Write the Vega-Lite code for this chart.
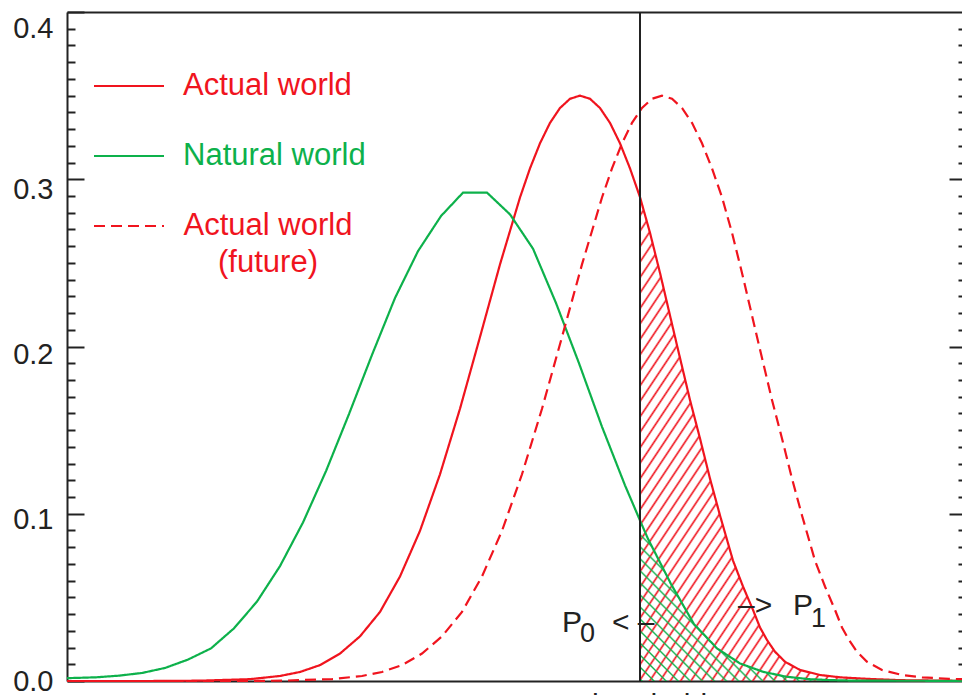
{
  "$schema": "https://vega.github.io/schema/vega-lite/v6.json",
  "width": 895,
  "height": 669,
  "autosize": "none",
  "padding": {"left": 67, "top": 12, "right": 0, "bottom": 14},
  "background": "white",
  "config": {"view": {"stroke": null}, "font": "Liberation Sans", "axis": {"grid": false, "title": null}},
  "datasets": {
    "curves": [
      {"series": "Actual world", "x": 0, "y": 0},
      {"series": "Actual world", "x": 8.3, "y": 0},
      {"series": "Actual world", "x": 13.3, "y": 0.0002},
      {"series": "Actual world", "x": 18.3, "y": 0.0011},
      {"series": "Actual world", "x": 21.3, "y": 0.003},
      {"series": "Actual world", "x": 23.3, "y": 0.0054},
      {"series": "Actual world", "x": 25.3, "y": 0.0095},
      {"series": "Actual world", "x": 27.3, "y": 0.0164},
      {"series": "Actual world", "x": 29.3, "y": 0.0267},
      {"series": "Actual world", "x": 31.3, "y": 0.0413},
      {"series": "Actual world", "x": 33.3, "y": 0.0625},
      {"series": "Actual world", "x": 35.3, "y": 0.0898},
      {"series": "Actual world", "x": 37.3, "y": 0.1236},
      {"series": "Actual world", "x": 39.3, "y": 0.1628},
      {"series": "Actual world", "x": 41.3, "y": 0.2057},
      {"series": "Actual world", "x": 43.3, "y": 0.2491},
      {"series": "Actual world", "x": 45.3, "y": 0.2891},
      {"series": "Actual world", "x": 46.3, "y": 0.3065},
      {"series": "Actual world", "x": 47.3, "y": 0.3215},
      {"series": "Actual world", "x": 48.3, "y": 0.3337},
      {"series": "Actual world", "x": 49.3, "y": 0.3426},
      {"series": "Actual world", "x": 50.3, "y": 0.3481},
      {"series": "Actual world", "x": 51.3, "y": 0.35},
      {"series": "Actual world", "x": 52.3, "y": 0.3481},
      {"series": "Actual world", "x": 53.3, "y": 0.3426},
      {"series": "Actual world", "x": 54.3, "y": 0.3337},
      {"series": "Actual world", "x": 55.3, "y": 0.3215},
      {"series": "Actual world", "x": 56.3, "y": 0.3065},
      {"series": "Actual world", "x": 57.3, "y": 0.2893},
      {"series": "Actual world", "x": 58.3, "y": 0.268},
      {"series": "Actual world", "x": 59.3, "y": 0.244},
      {"series": "Actual world", "x": 61.0, "y": 0.2007},
      {"series": "Actual world", "x": 62.3, "y": 0.168},
      {"series": "Actual world", "x": 63.3, "y": 0.145},
      {"series": "Actual world", "x": 64.3, "y": 0.121},
      {"series": "Actual world", "x": 65.3, "y": 0.099},
      {"series": "Actual world", "x": 66.6, "y": 0.072},
      {"series": "Actual world", "x": 67.6, "y": 0.0565},
      {"series": "Actual world", "x": 68.6, "y": 0.0425},
      {"series": "Actual world", "x": 69.3, "y": 0.032},
      {"series": "Actual world", "x": 70.0, "y": 0.0245},
      {"series": "Actual world", "x": 70.8, "y": 0.0175},
      {"series": "Actual world", "x": 71.8, "y": 0.0115},
      {"series": "Actual world", "x": 73.3, "y": 0.0066},
      {"series": "Actual world", "x": 75.3, "y": 0.0036},
      {"series": "Actual world", "x": 77.3, "y": 0.0022},
      {"series": "Actual world", "x": 80.0, "y": 0.0013},
      {"series": "Actual world", "x": 83.3, "y": 0.0005},
      {"series": "Actual world", "x": 89.5, "y": 0.0001},
      {"series": "Natural world", "x": 0, "y": 0.0017},
      {"series": "Natural world", "x": 2.9, "y": 0.0022},
      {"series": "Natural world", "x": 5.2, "y": 0.0032},
      {"series": "Natural world", "x": 7.5, "y": 0.0048},
      {"series": "Natural world", "x": 9.8, "y": 0.0078},
      {"series": "Natural world", "x": 12.1, "y": 0.0128},
      {"series": "Natural world", "x": 14.4, "y": 0.0195},
      {"series": "Natural world", "x": 16.7, "y": 0.0315},
      {"series": "Natural world", "x": 19.0, "y": 0.0475},
      {"series": "Natural world", "x": 21.3, "y": 0.0687},
      {"series": "Natural world", "x": 23.6, "y": 0.0948},
      {"series": "Natural world", "x": 25.9, "y": 0.1255},
      {"series": "Natural world", "x": 28.2, "y": 0.1596},
      {"series": "Natural world", "x": 30.5, "y": 0.195},
      {"series": "Natural world", "x": 32.8, "y": 0.229},
      {"series": "Natural world", "x": 35.1, "y": 0.257},
      {"series": "Natural world", "x": 37.4, "y": 0.278},
      {"series": "Natural world", "x": 39.6, "y": 0.292},
      {"series": "Natural world", "x": 42.0, "y": 0.292},
      {"series": "Natural world", "x": 44.3, "y": 0.279},
      {"series": "Natural world", "x": 46.6, "y": 0.2585},
      {"series": "Natural world", "x": 48.9, "y": 0.226},
      {"series": "Natural world", "x": 51.2, "y": 0.19},
      {"series": "Natural world", "x": 53.5, "y": 0.152},
      {"series": "Natural world", "x": 55.8, "y": 0.117},
      {"series": "Natural world", "x": 57.3, "y": 0.096},
      {"series": "Natural world", "x": 58.1, "y": 0.085},
      {"series": "Natural world", "x": 60.4, "y": 0.058},
      {"series": "Natural world", "x": 62.7, "y": 0.034},
      {"series": "Natural world", "x": 65.0, "y": 0.0195},
      {"series": "Natural world", "x": 67.3, "y": 0.0105},
      {"series": "Natural world", "x": 69.6, "y": 0.0055},
      {"series": "Natural world", "x": 71.9, "y": 0.0026},
      {"series": "Natural world", "x": 74.2, "y": 0.0011},
      {"series": "Natural world", "x": 76.5, "y": 0.0005},
      {"series": "Natural world", "x": 78.8, "y": 0.0002},
      {"series": "Natural world", "x": 89.5, "y": 0.0001},
      {"series": "Actual world (future)", "x": 0, "y": 0},
      {"series": "Actual world (future)", "x": 16.5, "y": 0},
      {"series": "Actual world (future)", "x": 21.5, "y": 0.0002},
      {"series": "Actual world (future)", "x": 26.5, "y": 0.0011},
      {"series": "Actual world (future)", "x": 29.5, "y": 0.003},
      {"series": "Actual world (future)", "x": 31.5, "y": 0.0054},
      {"series": "Actual world (future)", "x": 33.5, "y": 0.0095},
      {"series": "Actual world (future)", "x": 35.5, "y": 0.0164},
      {"series": "Actual world (future)", "x": 37.5, "y": 0.0267},
      {"series": "Actual world (future)", "x": 39.5, "y": 0.0413},
      {"series": "Actual world (future)", "x": 41.5, "y": 0.0625},
      {"series": "Actual world (future)", "x": 43.5, "y": 0.0898},
      {"series": "Actual world (future)", "x": 45.5, "y": 0.1236},
      {"series": "Actual world (future)", "x": 47.5, "y": 0.1628},
      {"series": "Actual world (future)", "x": 49.5, "y": 0.2057},
      {"series": "Actual world (future)", "x": 51.5, "y": 0.2491},
      {"series": "Actual world (future)", "x": 53.5, "y": 0.2891},
      {"series": "Actual world (future)", "x": 54.5, "y": 0.3065},
      {"series": "Actual world (future)", "x": 55.5, "y": 0.3215},
      {"series": "Actual world (future)", "x": 56.5, "y": 0.3337},
      {"series": "Actual world (future)", "x": 57.5, "y": 0.3426},
      {"series": "Actual world (future)", "x": 58.5, "y": 0.3481},
      {"series": "Actual world (future)", "x": 59.5, "y": 0.35},
      {"series": "Actual world (future)", "x": 60.5, "y": 0.3481},
      {"series": "Actual world (future)", "x": 61.5, "y": 0.3426},
      {"series": "Actual world (future)", "x": 62.5, "y": 0.3337},
      {"series": "Actual world (future)", "x": 63.5, "y": 0.3215},
      {"series": "Actual world (future)", "x": 64.5, "y": 0.3065},
      {"series": "Actual world (future)", "x": 65.5, "y": 0.2893},
      {"series": "Actual world (future)", "x": 66.5, "y": 0.268},
      {"series": "Actual world (future)", "x": 67.5, "y": 0.244},
      {"series": "Actual world (future)", "x": 69.2, "y": 0.2007},
      {"series": "Actual world (future)", "x": 70.5, "y": 0.168},
      {"series": "Actual world (future)", "x": 71.5, "y": 0.145},
      {"series": "Actual world (future)", "x": 72.5, "y": 0.121},
      {"series": "Actual world (future)", "x": 73.5, "y": 0.099},
      {"series": "Actual world (future)", "x": 74.8, "y": 0.072},
      {"series": "Actual world (future)", "x": 75.8, "y": 0.0565},
      {"series": "Actual world (future)", "x": 76.8, "y": 0.0425},
      {"series": "Actual world (future)", "x": 77.5, "y": 0.032},
      {"series": "Actual world (future)", "x": 78.2, "y": 0.0245},
      {"series": "Actual world (future)", "x": 79.0, "y": 0.0175},
      {"series": "Actual world (future)", "x": 80.0, "y": 0.0115},
      {"series": "Actual world (future)", "x": 81.5, "y": 0.0066},
      {"series": "Actual world (future)", "x": 83.5, "y": 0.0036},
      {"series": "Actual world (future)", "x": 85.5, "y": 0.0022},
      {"series": "Actual world (future)", "x": 88.2, "y": 0.0013},
      {"series": "Actual world (future)", "x": 89.5, "y": 0.0011}
    ]
  },
  "resolve": {"axis": {"x": "independent", "y": "independent"}},
  "layer": [
    {
      "data": {"name": "curves"},
      "transform": [{"filter": "datum.series === 'Actual world' && datum.x >= 57.3"}],
      "mark": {
        "type": "area",
        "opacity": 1,
        "fill": {
          "gradient": "linear", "x1": 0, "y1": 0, "x2": 1, "y2": 1,
          "stops": [
            {"offset":0,"color":"rgba(240,20,30,0)"},{"offset":0.003,"color":"#f0141e"},{"offset":0.006,"color":"rgba(240,20,30,0)"},
            {"offset":0.016,"color":"rgba(240,20,30,0)"},{"offset":0.019,"color":"#f0141e"},{"offset":0.022,"color":"rgba(240,20,30,0)"},
            {"offset":0.032,"color":"rgba(240,20,30,0)"},{"offset":0.035,"color":"#f0141e"},{"offset":0.038,"color":"rgba(240,20,30,0)"},
            {"offset":0.048,"color":"rgba(240,20,30,0)"},{"offset":0.051,"color":"#f0141e"},{"offset":0.054,"color":"rgba(240,20,30,0)"},
            {"offset":0.064,"color":"rgba(240,20,30,0)"},{"offset":0.067,"color":"#f0141e"},{"offset":0.07,"color":"rgba(240,20,30,0)"},
            {"offset":0.08,"color":"rgba(240,20,30,0)"},{"offset":0.083,"color":"#f0141e"},{"offset":0.086,"color":"rgba(240,20,30,0)"},
            {"offset":0.096,"color":"rgba(240,20,30,0)"},{"offset":0.099,"color":"#f0141e"},{"offset":0.102,"color":"rgba(240,20,30,0)"},
            {"offset":0.112,"color":"rgba(240,20,30,0)"},{"offset":0.115,"color":"#f0141e"},{"offset":0.118,"color":"rgba(240,20,30,0)"},
            {"offset":0.128,"color":"rgba(240,20,30,0)"},{"offset":0.131,"color":"#f0141e"},{"offset":0.134,"color":"rgba(240,20,30,0)"},
            {"offset":0.144,"color":"rgba(240,20,30,0)"},{"offset":0.147,"color":"#f0141e"},{"offset":0.15,"color":"rgba(240,20,30,0)"},
            {"offset":0.16,"color":"rgba(240,20,30,0)"},{"offset":0.163,"color":"#f0141e"},{"offset":0.166,"color":"rgba(240,20,30,0)"},
            {"offset":0.176,"color":"rgba(240,20,30,0)"},{"offset":0.179,"color":"#f0141e"},{"offset":0.182,"color":"rgba(240,20,30,0)"},
            {"offset":0.192,"color":"rgba(240,20,30,0)"},{"offset":0.195,"color":"#f0141e"},{"offset":0.198,"color":"rgba(240,20,30,0)"},
            {"offset":0.208,"color":"rgba(240,20,30,0)"},{"offset":0.211,"color":"#f0141e"},{"offset":0.214,"color":"rgba(240,20,30,0)"},
            {"offset":0.224,"color":"rgba(240,20,30,0)"},{"offset":0.227,"color":"#f0141e"},{"offset":0.23,"color":"rgba(240,20,30,0)"},
            {"offset":0.24,"color":"rgba(240,20,30,0)"},{"offset":0.243,"color":"#f0141e"},{"offset":0.246,"color":"rgba(240,20,30,0)"},
            {"offset":0.256,"color":"rgba(240,20,30,0)"},{"offset":0.259,"color":"#f0141e"},{"offset":0.262,"color":"rgba(240,20,30,0)"},
            {"offset":0.272,"color":"rgba(240,20,30,0)"},{"offset":0.275,"color":"#f0141e"},{"offset":0.278,"color":"rgba(240,20,30,0)"},
            {"offset":0.288,"color":"rgba(240,20,30,0)"},{"offset":0.291,"color":"#f0141e"},{"offset":0.294,"color":"rgba(240,20,30,0)"},
            {"offset":0.304,"color":"rgba(240,20,30,0)"},{"offset":0.307,"color":"#f0141e"},{"offset":0.31,"color":"rgba(240,20,30,0)"},
            {"offset":0.32,"color":"rgba(240,20,30,0)"},{"offset":0.323,"color":"#f0141e"},{"offset":0.326,"color":"rgba(240,20,30,0)"},
            {"offset":0.336,"color":"rgba(240,20,30,0)"},{"offset":0.339,"color":"#f0141e"},{"offset":0.342,"color":"rgba(240,20,30,0)"},
            {"offset":0.352,"color":"rgba(240,20,30,0)"},{"offset":0.355,"color":"#f0141e"},{"offset":0.358,"color":"rgba(240,20,30,0)"},
            {"offset":0.368,"color":"rgba(240,20,30,0)"},{"offset":0.371,"color":"#f0141e"},{"offset":0.374,"color":"rgba(240,20,30,0)"},
            {"offset":0.384,"color":"rgba(240,20,30,0)"},{"offset":0.387,"color":"#f0141e"},{"offset":0.39,"color":"rgba(240,20,30,0)"},
            {"offset":0.4,"color":"rgba(240,20,30,0)"},{"offset":0.403,"color":"#f0141e"},{"offset":0.406,"color":"rgba(240,20,30,0)"},
            {"offset":0.416,"color":"rgba(240,20,30,0)"},{"offset":0.419,"color":"#f0141e"},{"offset":0.422,"color":"rgba(240,20,30,0)"},
            {"offset":0.432,"color":"rgba(240,20,30,0)"},{"offset":0.435,"color":"#f0141e"},{"offset":0.438,"color":"rgba(240,20,30,0)"},
            {"offset":0.448,"color":"rgba(240,20,30,0)"},{"offset":0.451,"color":"#f0141e"},{"offset":0.454,"color":"rgba(240,20,30,0)"},
            {"offset":0.464,"color":"rgba(240,20,30,0)"},{"offset":0.467,"color":"#f0141e"},{"offset":0.47,"color":"rgba(240,20,30,0)"},
            {"offset":0.48,"color":"rgba(240,20,30,0)"},{"offset":0.483,"color":"#f0141e"},{"offset":0.486,"color":"rgba(240,20,30,0)"},
            {"offset":0.496,"color":"rgba(240,20,30,0)"},{"offset":0.499,"color":"#f0141e"},{"offset":0.502,"color":"rgba(240,20,30,0)"},
            {"offset":0.512,"color":"rgba(240,20,30,0)"},{"offset":0.515,"color":"#f0141e"},{"offset":0.518,"color":"rgba(240,20,30,0)"},
            {"offset":0.528,"color":"rgba(240,20,30,0)"},{"offset":0.531,"color":"#f0141e"},{"offset":0.534,"color":"rgba(240,20,30,0)"},
            {"offset":0.544,"color":"rgba(240,20,30,0)"},{"offset":0.547,"color":"#f0141e"},{"offset":0.55,"color":"rgba(240,20,30,0)"},
            {"offset":0.56,"color":"rgba(240,20,30,0)"},{"offset":0.563,"color":"#f0141e"},{"offset":0.566,"color":"rgba(240,20,30,0)"},
            {"offset":0.576,"color":"rgba(240,20,30,0)"},{"offset":0.579,"color":"#f0141e"},{"offset":0.582,"color":"rgba(240,20,30,0)"},
            {"offset":0.592,"color":"rgba(240,20,30,0)"},{"offset":0.595,"color":"#f0141e"},{"offset":0.598,"color":"rgba(240,20,30,0)"},
            {"offset":0.608,"color":"rgba(240,20,30,0)"},{"offset":0.611,"color":"#f0141e"},{"offset":0.614,"color":"rgba(240,20,30,0)"},
            {"offset":0.624,"color":"rgba(240,20,30,0)"},{"offset":0.627,"color":"#f0141e"},{"offset":0.63,"color":"rgba(240,20,30,0)"},
            {"offset":0.64,"color":"rgba(240,20,30,0)"},{"offset":0.643,"color":"#f0141e"},{"offset":0.646,"color":"rgba(240,20,30,0)"},
            {"offset":0.656,"color":"rgba(240,20,30,0)"},{"offset":0.659,"color":"#f0141e"},{"offset":0.662,"color":"rgba(240,20,30,0)"},
            {"offset":0.672,"color":"rgba(240,20,30,0)"},{"offset":0.675,"color":"#f0141e"},{"offset":0.678,"color":"rgba(240,20,30,0)"},
            {"offset":0.688,"color":"rgba(240,20,30,0)"},{"offset":0.691,"color":"#f0141e"},{"offset":0.694,"color":"rgba(240,20,30,0)"},
            {"offset":0.704,"color":"rgba(240,20,30,0)"},{"offset":0.707,"color":"#f0141e"},{"offset":0.71,"color":"rgba(240,20,30,0)"},
            {"offset":0.72,"color":"rgba(240,20,30,0)"},{"offset":0.723,"color":"#f0141e"},{"offset":0.726,"color":"rgba(240,20,30,0)"},
            {"offset":0.736,"color":"rgba(240,20,30,0)"},{"offset":0.739,"color":"#f0141e"},{"offset":0.742,"color":"rgba(240,20,30,0)"},
            {"offset":0.752,"color":"rgba(240,20,30,0)"},{"offset":0.755,"color":"#f0141e"},{"offset":0.758,"color":"rgba(240,20,30,0)"},
            {"offset":0.768,"color":"rgba(240,20,30,0)"},{"offset":0.771,"color":"#f0141e"},{"offset":0.774,"color":"rgba(240,20,30,0)"},
            {"offset":0.784,"color":"rgba(240,20,30,0)"},{"offset":0.787,"color":"#f0141e"},{"offset":0.79,"color":"rgba(240,20,30,0)"},
            {"offset":0.8,"color":"rgba(240,20,30,0)"},{"offset":0.803,"color":"#f0141e"},{"offset":0.806,"color":"rgba(240,20,30,0)"},
            {"offset":0.816,"color":"rgba(240,20,30,0)"},{"offset":0.819,"color":"#f0141e"},{"offset":0.822,"color":"rgba(240,20,30,0)"},
            {"offset":0.832,"color":"rgba(240,20,30,0)"},{"offset":0.835,"color":"#f0141e"},{"offset":0.838,"color":"rgba(240,20,30,0)"},
            {"offset":0.848,"color":"rgba(240,20,30,0)"},{"offset":0.851,"color":"#f0141e"},{"offset":0.854,"color":"rgba(240,20,30,0)"},
            {"offset":0.864,"color":"rgba(240,20,30,0)"},{"offset":0.867,"color":"#f0141e"},{"offset":0.87,"color":"rgba(240,20,30,0)"},
            {"offset":0.88,"color":"rgba(240,20,30,0)"},{"offset":0.883,"color":"#f0141e"},{"offset":0.886,"color":"rgba(240,20,30,0)"},
            {"offset":0.896,"color":"rgba(240,20,30,0)"},{"offset":0.899,"color":"#f0141e"},{"offset":0.902,"color":"rgba(240,20,30,0)"},
            {"offset":0.912,"color":"rgba(240,20,30,0)"},{"offset":0.915,"color":"#f0141e"},{"offset":0.918,"color":"rgba(240,20,30,0)"},
            {"offset":0.928,"color":"rgba(240,20,30,0)"},{"offset":0.931,"color":"#f0141e"},{"offset":0.934,"color":"rgba(240,20,30,0)"},
            {"offset":0.944,"color":"rgba(240,20,30,0)"},{"offset":0.947,"color":"#f0141e"},{"offset":0.95,"color":"rgba(240,20,30,0)"},
            {"offset":0.96,"color":"rgba(240,20,30,0)"},{"offset":0.963,"color":"#f0141e"},{"offset":0.966,"color":"rgba(240,20,30,0)"},
            {"offset":0.976,"color":"rgba(240,20,30,0)"},{"offset":0.979,"color":"#f0141e"},{"offset":0.982,"color":"rgba(240,20,30,0)"},
            {"offset":0.992,"color":"rgba(240,20,30,0)"},{"offset":0.995,"color":"#f0141e"},{"offset":0.998,"color":"rgba(240,20,30,0)"}
          ]
        }
      },
      "encoding": {
        "x": {"field": "x", "type": "quantitative", "scale": {"domain": [0, 89.5], "nice": false, "zero": false},
          "axis": {"orient": "bottom", "values": [57.3], "ticks": false, "labelExpr": "'Threshold'", "labelFontSize": 30, "labelColor": "#222", "labelPadding": 9, "labelFlush": false, "labelOverlap": false, "labelBound": false, "domain": true, "domainColor": "#222", "domainWidth": 2, "grid": false, "title": null}},
        "y": {"field": "y", "type": "quantitative", "scale": {"domain": [0, 0.4], "nice": false},
          "axis": {"orient": "left", "values": [0, 0.1, 0.2, 0.3, 0.4], "format": ".1f", "tickSize": -17, "tickWidth": 2, "tickColor": "#222", "domain": true, "domainColor": "#222", "domainWidth": 2, "labelFontSize": 29, "labelColor": "#222", "labelPadding": 31, "labelFlush": false, "labelOverlap": false, "labelBound": false, "grid": false, "title": null,
            "labelOffset": {"condition": [{"test": "datum.value > 0.35", "value": 16}, {"test": "datum.value > 0.25", "value": 10}, {"test": "datum.value > 0.15", "value": 8}, {"test": "datum.value > 0.05", "value": 6}], "value": 0}}}
      }
    },
    {
      "data": {"name": "curves"},
      "transform": [{"filter": "datum.series === 'Natural world' && datum.x >= 57.3"}],
      "mark": {
        "type": "area",
        "opacity": 1,
        "fill": {
          "gradient": "linear", "x1": 0, "y1": 1, "x2": 1.2, "y2": 0.4,
          "stops": [
            {"offset":0,"color":"rgba(13,177,75,0)"},{"offset":0.004,"color":"#0db14b"},{"offset":0.008,"color":"rgba(13,177,75,0)"},
            {"offset":0.025,"color":"rgba(13,177,75,0)"},{"offset":0.029,"color":"#0db14b"},{"offset":0.033,"color":"rgba(13,177,75,0)"},
            {"offset":0.05,"color":"rgba(13,177,75,0)"},{"offset":0.054,"color":"#0db14b"},{"offset":0.058,"color":"rgba(13,177,75,0)"},
            {"offset":0.075,"color":"rgba(13,177,75,0)"},{"offset":0.079,"color":"#0db14b"},{"offset":0.083,"color":"rgba(13,177,75,0)"},
            {"offset":0.1,"color":"rgba(13,177,75,0)"},{"offset":0.104,"color":"#0db14b"},{"offset":0.108,"color":"rgba(13,177,75,0)"},
            {"offset":0.125,"color":"rgba(13,177,75,0)"},{"offset":0.129,"color":"#0db14b"},{"offset":0.133,"color":"rgba(13,177,75,0)"},
            {"offset":0.15,"color":"rgba(13,177,75,0)"},{"offset":0.154,"color":"#0db14b"},{"offset":0.158,"color":"rgba(13,177,75,0)"},
            {"offset":0.175,"color":"rgba(13,177,75,0)"},{"offset":0.179,"color":"#0db14b"},{"offset":0.183,"color":"rgba(13,177,75,0)"},
            {"offset":0.2,"color":"rgba(13,177,75,0)"},{"offset":0.204,"color":"#0db14b"},{"offset":0.208,"color":"rgba(13,177,75,0)"},
            {"offset":0.225,"color":"rgba(13,177,75,0)"},{"offset":0.229,"color":"#0db14b"},{"offset":0.233,"color":"rgba(13,177,75,0)"},
            {"offset":0.25,"color":"rgba(13,177,75,0)"},{"offset":0.254,"color":"#0db14b"},{"offset":0.258,"color":"rgba(13,177,75,0)"},
            {"offset":0.275,"color":"rgba(13,177,75,0)"},{"offset":0.279,"color":"#0db14b"},{"offset":0.283,"color":"rgba(13,177,75,0)"},
            {"offset":0.3,"color":"rgba(13,177,75,0)"},{"offset":0.304,"color":"#0db14b"},{"offset":0.308,"color":"rgba(13,177,75,0)"},
            {"offset":0.325,"color":"rgba(13,177,75,0)"},{"offset":0.329,"color":"#0db14b"},{"offset":0.333,"color":"rgba(13,177,75,0)"},
            {"offset":0.35,"color":"rgba(13,177,75,0)"},{"offset":0.354,"color":"#0db14b"},{"offset":0.358,"color":"rgba(13,177,75,0)"},
            {"offset":0.375,"color":"rgba(13,177,75,0)"},{"offset":0.379,"color":"#0db14b"},{"offset":0.383,"color":"rgba(13,177,75,0)"},
            {"offset":0.4,"color":"rgba(13,177,75,0)"},{"offset":0.404,"color":"#0db14b"},{"offset":0.408,"color":"rgba(13,177,75,0)"},
            {"offset":0.425,"color":"rgba(13,177,75,0)"},{"offset":0.429,"color":"#0db14b"},{"offset":0.433,"color":"rgba(13,177,75,0)"},
            {"offset":0.45,"color":"rgba(13,177,75,0)"},{"offset":0.454,"color":"#0db14b"},{"offset":0.458,"color":"rgba(13,177,75,0)"},
            {"offset":0.475,"color":"rgba(13,177,75,0)"},{"offset":0.479,"color":"#0db14b"},{"offset":0.483,"color":"rgba(13,177,75,0)"},
            {"offset":0.5,"color":"rgba(13,177,75,0)"},{"offset":0.504,"color":"#0db14b"},{"offset":0.508,"color":"rgba(13,177,75,0)"},
            {"offset":0.525,"color":"rgba(13,177,75,0)"},{"offset":0.529,"color":"#0db14b"},{"offset":0.533,"color":"rgba(13,177,75,0)"},
            {"offset":0.55,"color":"rgba(13,177,75,0)"},{"offset":0.554,"color":"#0db14b"},{"offset":0.558,"color":"rgba(13,177,75,0)"},
            {"offset":0.575,"color":"rgba(13,177,75,0)"},{"offset":0.579,"color":"#0db14b"},{"offset":0.583,"color":"rgba(13,177,75,0)"},
            {"offset":0.6,"color":"rgba(13,177,75,0)"},{"offset":0.604,"color":"#0db14b"},{"offset":0.608,"color":"rgba(13,177,75,0)"},
            {"offset":0.625,"color":"rgba(13,177,75,0)"},{"offset":0.629,"color":"#0db14b"},{"offset":0.633,"color":"rgba(13,177,75,0)"},
            {"offset":0.65,"color":"rgba(13,177,75,0)"},{"offset":0.654,"color":"#0db14b"},{"offset":0.658,"color":"rgba(13,177,75,0)"},
            {"offset":0.675,"color":"rgba(13,177,75,0)"},{"offset":0.679,"color":"#0db14b"},{"offset":0.683,"color":"rgba(13,177,75,0)"},
            {"offset":0.7,"color":"rgba(13,177,75,0)"},{"offset":0.704,"color":"#0db14b"},{"offset":0.708,"color":"rgba(13,177,75,0)"},
            {"offset":0.725,"color":"rgba(13,177,75,0)"},{"offset":0.729,"color":"#0db14b"},{"offset":0.733,"color":"rgba(13,177,75,0)"},
            {"offset":0.75,"color":"rgba(13,177,75,0)"},{"offset":0.754,"color":"#0db14b"},{"offset":0.758,"color":"rgba(13,177,75,0)"},
            {"offset":0.775,"color":"rgba(13,177,75,0)"},{"offset":0.779,"color":"#0db14b"},{"offset":0.783,"color":"rgba(13,177,75,0)"},
            {"offset":0.8,"color":"rgba(13,177,75,0)"},{"offset":0.804,"color":"#0db14b"},{"offset":0.808,"color":"rgba(13,177,75,0)"},
            {"offset":0.825,"color":"rgba(13,177,75,0)"},{"offset":0.829,"color":"#0db14b"},{"offset":0.833,"color":"rgba(13,177,75,0)"},
            {"offset":0.85,"color":"rgba(13,177,75,0)"},{"offset":0.854,"color":"#0db14b"},{"offset":0.858,"color":"rgba(13,177,75,0)"},
            {"offset":0.875,"color":"rgba(13,177,75,0)"},{"offset":0.879,"color":"#0db14b"},{"offset":0.883,"color":"rgba(13,177,75,0)"},
            {"offset":0.9,"color":"rgba(13,177,75,0)"},{"offset":0.904,"color":"#0db14b"},{"offset":0.908,"color":"rgba(13,177,75,0)"},
            {"offset":0.925,"color":"rgba(13,177,75,0)"},{"offset":0.929,"color":"#0db14b"},{"offset":0.933,"color":"rgba(13,177,75,0)"},
            {"offset":0.95,"color":"rgba(13,177,75,0)"},{"offset":0.954,"color":"#0db14b"},{"offset":0.958,"color":"rgba(13,177,75,0)"},
            {"offset":0.975,"color":"rgba(13,177,75,0)"},{"offset":0.979,"color":"#0db14b"},{"offset":0.983,"color":"rgba(13,177,75,0)"}
          ]
        }
      },
      "encoding": {
        "x": {"field": "x", "type": "quantitative", "scale": {"domain": [0, 89.5], "nice": false, "zero": false},
          "axis": {"orient": "top", "ticks": false, "labels": false, "domain": true, "domainColor": "#222", "domainWidth": 2, "grid": false, "title": null}},
        "y": {"field": "y", "type": "quantitative", "scale": {"domain": [0, 0.4], "nice": false},
          "axis": {"orient": "left", "values": [0.01,0.02,0.03,0.04,0.05,0.06,0.07,0.08,0.09,0.11,0.12,0.13,0.14,0.15,0.16,0.17,0.18,0.19,0.21,0.22,0.23,0.24,0.25,0.26,0.27,0.28,0.29,0.31,0.32,0.33,0.34,0.35,0.36,0.37,0.38,0.39], "tickSize": -8, "tickWidth": 2, "tickColor": "#222", "labels": false, "domain": false, "grid": false, "title": null}}
      }
    },
    {
      "data": {"name": "curves"},
      "mark": {"type": "line", "strokeWidth": 2.2, "interpolate": "linear"},
      "encoding": {
        "x": {"field": "x", "type": "quantitative", "scale": {"domain": [0, 89.5], "nice": false, "zero": false}, "axis": null},
        "y": {"field": "y", "type": "quantitative", "scale": {"domain": [0, 0.4], "nice": false},
          "axis": {"orient": "right", "offset": 4, "values": [0.1, 0.2, 0.3], "tickSize": -17, "tickWidth": 2, "tickColor": "#222", "labels": false, "domain": false, "grid": false, "title": null}},
        "color": {"field": "series", "type": "nominal",
          "scale": {"domain": ["Actual world", "Natural world", "Actual world (future)"], "range": ["#f0141e", "#0db14b", "#f0141e"]},
          "legend": {"orient": "none", "legendX": 26, "legendY": 38, "title": null, "symbolType": "stroke", "symbolSize": 4900, "symbolStrokeWidth": 2, "labelFontSize": 31, "labelFont": "Liberation Sans", "labelOffset": 18, "labelLimit": 400, "rowPadding": 19, "padding": 0,
            "labelExpr": "datum.value === 'Actual world (future)' ? ['Actual world', '(future)'] : datum.label",
            "encode": {"labels": {"update": {
              "fill": {"signal": "datum.value === 'Natural world' ? '#0db14b' : '#f0141e'"},
              "align": {"signal": "datum.value === 'Actual world (future)' ? 'center' : 'left'"},
              "dx": {"signal": "datum.value === 'Actual world (future)' ? 85 : 0"},
              "lineHeight": {"value": 37}}}}}},
        "strokeDash": {"field": "series", "type": "nominal",
          "scale": {"domain": ["Actual world", "Natural world", "Actual world (future)"], "range": [[1, 0], [1, 0], [11, 6]]},
          "legend": {"orient": "none", "legendX": 26, "legendY": 38, "title": null, "symbolType": "stroke", "symbolSize": 4900, "symbolStrokeWidth": 2, "labelFontSize": 31, "labelFont": "Liberation Sans", "labelOffset": 18, "labelLimit": 400, "rowPadding": 19, "padding": 0,
            "labelExpr": "datum.value === 'Actual world (future)' ? ['Actual world', '(future)'] : datum.label",
            "encode": {"labels": {"update": {
              "fill": {"signal": "datum.value === 'Natural world' ? '#0db14b' : '#f0141e'"},
              "align": {"signal": "datum.value === 'Actual world (future)' ? 'center' : 'left'"},
              "dx": {"signal": "datum.value === 'Actual world (future)' ? 85 : 0"},
              "lineHeight": {"value": 37}}}}}}
      }
    },
    {
      "data": {"values": [{}]},
      "mark": {"type": "rule", "color": "#222", "strokeWidth": 2},
      "encoding": {
        "x": {"datum": 57.3, "type": "quantitative", "scale": {"domain": [0, 89.5], "nice": false, "zero": false}, "axis": null}
      }
    },
    {
      "data": {"values": [{}]},
      "mark": {"type": "text", "text": "P", "fontSize": 30, "align": "left", "baseline": "alphabetic", "color": "#222", "font": "Liberation Sans"},
      "encoding": {
        "x": {"datum": 49.5, "type": "quantitative", "scale": {"domain": [0, 89.5], "nice": false, "zero": false}, "axis": null},
        "y": {"datum": 0.0293, "type": "quantitative", "scale": {"domain": [0, 0.4], "nice": false},
          "axis": {"orient": "right", "offset": 4, "values": [0.01,0.02,0.03,0.04,0.05,0.06,0.07,0.08,0.09,0.11,0.12,0.13,0.14,0.15,0.16,0.17,0.18,0.19,0.21,0.22,0.23,0.24,0.25,0.26,0.27,0.28,0.29,0.31,0.32,0.33,0.34,0.35,0.36,0.37,0.38,0.39], "tickSize": -8, "tickWidth": 2, "tickColor": "#222", "labels": false, "domain": false, "grid": false, "title": null}}
      }
    },
    {
      "data": {"values": [{}]},
      "mark": {"type": "text", "text": "0", "fontSize": 27, "align": "left", "baseline": "alphabetic", "color": "#222", "font": "Liberation Sans"},
      "encoding": {
        "x": {"datum": 51.3, "type": "quantitative", "scale": {"domain": [0, 89.5], "nice": false, "zero": false}, "axis": null},
        "y": {"datum": 0.0233, "type": "quantitative", "scale": {"domain": [0, 0.4], "nice": false}, "axis": null}
      }
    },
    {
      "data": {"values": [{}]},
      "mark": {"type": "text", "text": "< –", "fontSize": 30, "align": "left", "baseline": "alphabetic", "color": "#222", "font": "Liberation Sans"},
      "encoding": {
        "x": {"datum": 54.5, "type": "quantitative", "scale": {"domain": [0, 89.5], "nice": false, "zero": false}, "axis": null},
        "y": {"datum": 0.0293, "type": "quantitative", "scale": {"domain": [0, 0.4], "nice": false}, "axis": null}
      }
    },
    {
      "data": {"values": [{}]},
      "mark": {"type": "text", "text": "–>", "fontSize": 30, "align": "left", "baseline": "alphabetic", "color": "#222", "font": "Liberation Sans"},
      "encoding": {
        "x": {"datum": 67.1, "type": "quantitative", "scale": {"domain": [0, 89.5], "nice": false, "zero": false}, "axis": null},
        "y": {"datum": 0.0395, "type": "quantitative", "scale": {"domain": [0, 0.4], "nice": false}, "axis": null}
      }
    },
    {
      "data": {"values": [{}]},
      "mark": {"type": "text", "text": "P", "fontSize": 30, "align": "left", "baseline": "alphabetic", "color": "#222", "font": "Liberation Sans"},
      "encoding": {
        "x": {"datum": 72.6, "type": "quantitative", "scale": {"domain": [0, 89.5], "nice": false, "zero": false}, "axis": null},
        "y": {"datum": 0.0395, "type": "quantitative", "scale": {"domain": [0, 0.4], "nice": false}, "axis": null}
      }
    },
    {
      "data": {"values": [{}]},
      "mark": {"type": "text", "text": "1", "fontSize": 27, "align": "left", "baseline": "alphabetic", "color": "#222", "font": "Liberation Sans"},
      "encoding": {
        "x": {"datum": 74.4, "type": "quantitative", "scale": {"domain": [0, 89.5], "nice": false, "zero": false}, "axis": null},
        "y": {"datum": 0.0323, "type": "quantitative", "scale": {"domain": [0, 0.4], "nice": false}, "axis": null}
      }
    }
  ]
}
